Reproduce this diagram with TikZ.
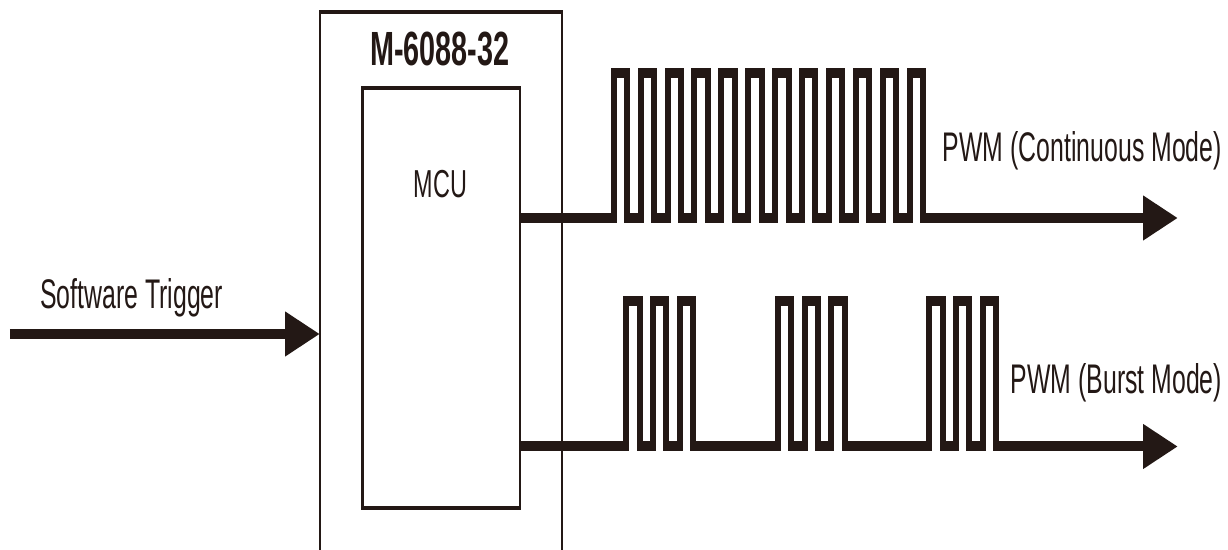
\documentclass[tikz,border=0pt]{standalone}
\usepackage{fontspec}
\setmainfont{Liberation Sans}
\usetikzlibrary{arrows.meta,fit}
\definecolor{ink}{HTML}{231815}
\tikzset{
  frame/.style={draw=ink, line width=1.6pt, line join=miter},
  mcubox/.style={draw=ink, line width=2.1pt, inner sep=0pt},
  wave/.style={draw=ink, line width=5pt, line join=miter},
  bigarrow/.style={draw=ink, line width=5pt, -{Triangle[length=29pt, width=21pt, fill=ink]}},
  lbl/.style={text=ink, inner sep=0pt, font=\fontsize{20.7}{24}\selectfont},
  title/.style={text=ink, inner sep=0pt, font=\fontsize{24}{28}\selectfont\bfseries},
  mculbl/.style={text=ink, inner sep=0pt, font=\fontsize{19.5}{22}\selectfont},
}
\begin{document}
\begin{tikzpicture}[x=0.5pt,y=-0.5pt]
\useasboundingbox (0,0) rectangle (1228,550);
\begin{scope}[transform canvas={xscale=0.6}, x=0.83333pt]
  % outer device box (open at the bottom, runs off the picture)
  \draw[frame] (320,550) -- (320,12) -- (562,12) -- (562,550);
  \node[title, anchor=base] (dev) at (440,65.5) {M-6088-32};
  % MCU box
  \node[mcubox, fit={(362.7,87.7) (520,508)}] (mcu) {};
  \node[mculbl, anchor=base] (mcut) at (440.5,198) {MCU};
  % software trigger
  \coordinate (swin) at (10,334);
  \draw[bigarrow] (swin) -- (320,334);
  \node[lbl, anchor=base west] (swt) at (40,309) {Software Trigger};
  % continuous PWM
  \coordinate (c0) at (520,218);
  \coordinate (cend) at (1178,218);
  \draw[wave] (mcu.east |- c0) -- (613.7,218)
     foreach \i in {1,...,12} { -- ++(0,-145) -- ++(13.4,0) -- ++(0,145) -- ++(13.5,0) };
  \draw[bigarrow] (923,218) -- (cend);
  \node[lbl, anchor=base west] (cl) at (942.7,161.7) {PWM (Continuous Mode)};
  % burst PWM
  \coordinate (b0) at (520,446.5);
  \coordinate (bend) at (1178,446.5);
  \draw[wave] (mcu.east |- b0) -- (626.3,446.5)
     foreach \b in {0,1,2} {
       -- (626.3+151.5*\b,446.5)
       foreach \i in {1,2,3} { -- ++(0,-145) -- ++(13.3,0) -- ++(0,145) -- ++(13.5,0) }
     };
  \draw[bigarrow] (995.7,446.5) -- (bend);
  \node[lbl, anchor=base west] (bl) at (1010.7,393.3) {PWM (Burst Mode)};
\end{scope}
\end{tikzpicture}
\end{document}
